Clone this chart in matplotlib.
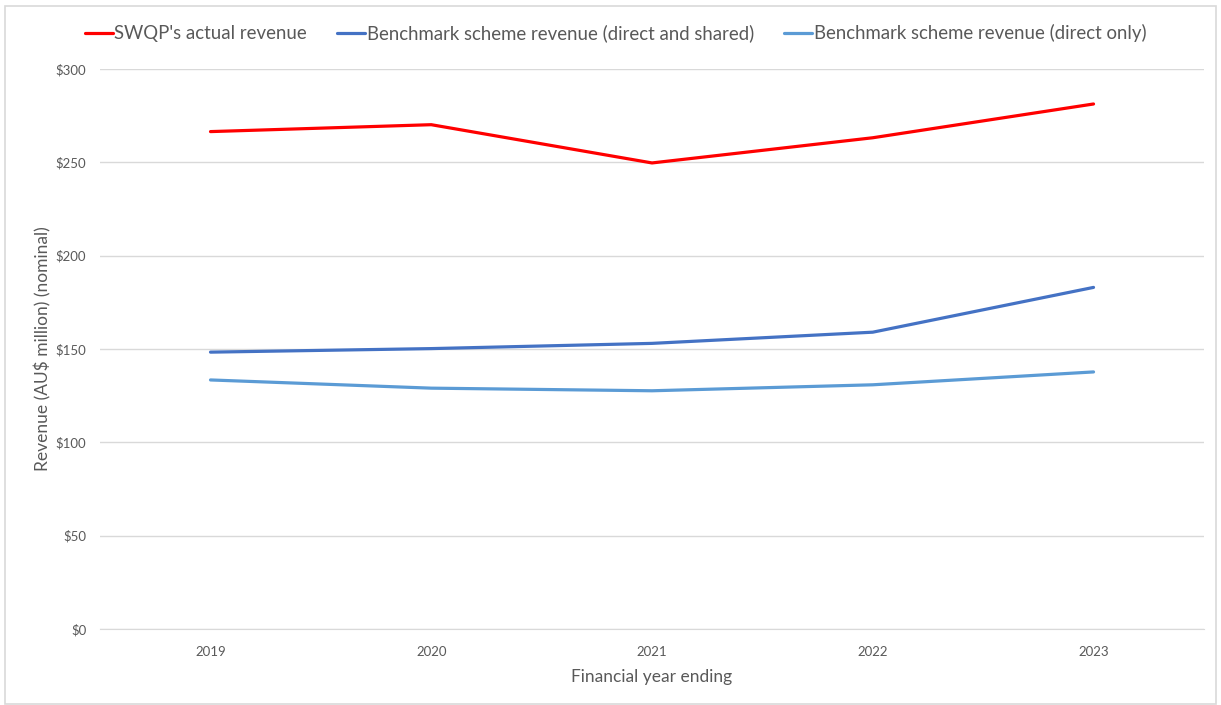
import numpy as np
import matplotlib.pyplot as plt
from matplotlib.patches import Rectangle
from matplotlib.ticker import FuncFormatter

years = ["2019", "2020", "2021", "2022", "2023"]
actual = [266.5, 270.2, 249.7, 263.2, 281.3]
bench_shared = [148.3, 150.2, 153.0, 159.0, 183.0]
bench_direct = [133.4, 129.0, 127.6, 130.8, 137.7]

series = [
    ("SWQP's actual revenue", actual, "#FF0000"),
    ("Benchmark scheme revenue (direct and shared)", bench_shared, "#4472C4"),
    ("Benchmark scheme revenue (direct only)", bench_direct, "#5B9BD5"),
]

plt.rcParams['font.family'] = ['Lato', 'DejaVu Sans']

fig = plt.figure(figsize=(12.21, 7.05), dpi=100)
ax = fig.add_axes([0.082, 0.108, 0.904, 0.794])

x = np.arange(len(years))
for label, vals, color in series:
    ax.plot(x, vals, color=color, lw=2.3, label=label,
            solid_capstyle="round", solid_joinstyle="round", zorder=3)

ax.set_xlim(-0.5, len(years) - 0.5)
ax.set_ylim(0, 300)
ax.set_xticks(x)
ax.set_xticklabels(years)
ax.set_yticks(np.arange(0, 301, 50))
ax.yaxis.set_major_formatter(FuncFormatter(lambda v, p: "${:.0f}".format(v)))
ax.grid(axis="y", color="#D9D9D9", lw=1)
ax.set_axisbelow(True)
for s in ["top", "right", "left"]:
    ax.spines[s].set_visible(False)
ax.spines["bottom"].set_color("#D9D9D9")
ax.tick_params(axis="both", length=0, labelsize=9.5, colors="#595959")
ax.tick_params(axis="x", pad=12)
ax.tick_params(axis="y", pad=10)
ax.set_xlabel("Financial year ending", fontsize=12.5, color="#595959", labelpad=8)
ax.set_ylabel("Revenue (AU$ million) (nominal)", fontsize=12.5, color="#595959", labelpad=3)

handles, labels = ax.get_legend_handles_labels()
fig.legend(handles, labels, loc="center", bbox_to_anchor=(0.504, 0.953),
           ncol=3, frameon=False, fontsize=13.4, handlelength=1.5, handletextpad=0.1,
           columnspacing=1.6, labelcolor="#595959")

fig.patches.append(Rectangle((0.004, 0.002), 0.992, 0.99, transform=fig.transFigure,
                             fill=False, edgecolor="#D9D9D9", lw=1.2))

fig.savefig("out.png", dpi=100)
